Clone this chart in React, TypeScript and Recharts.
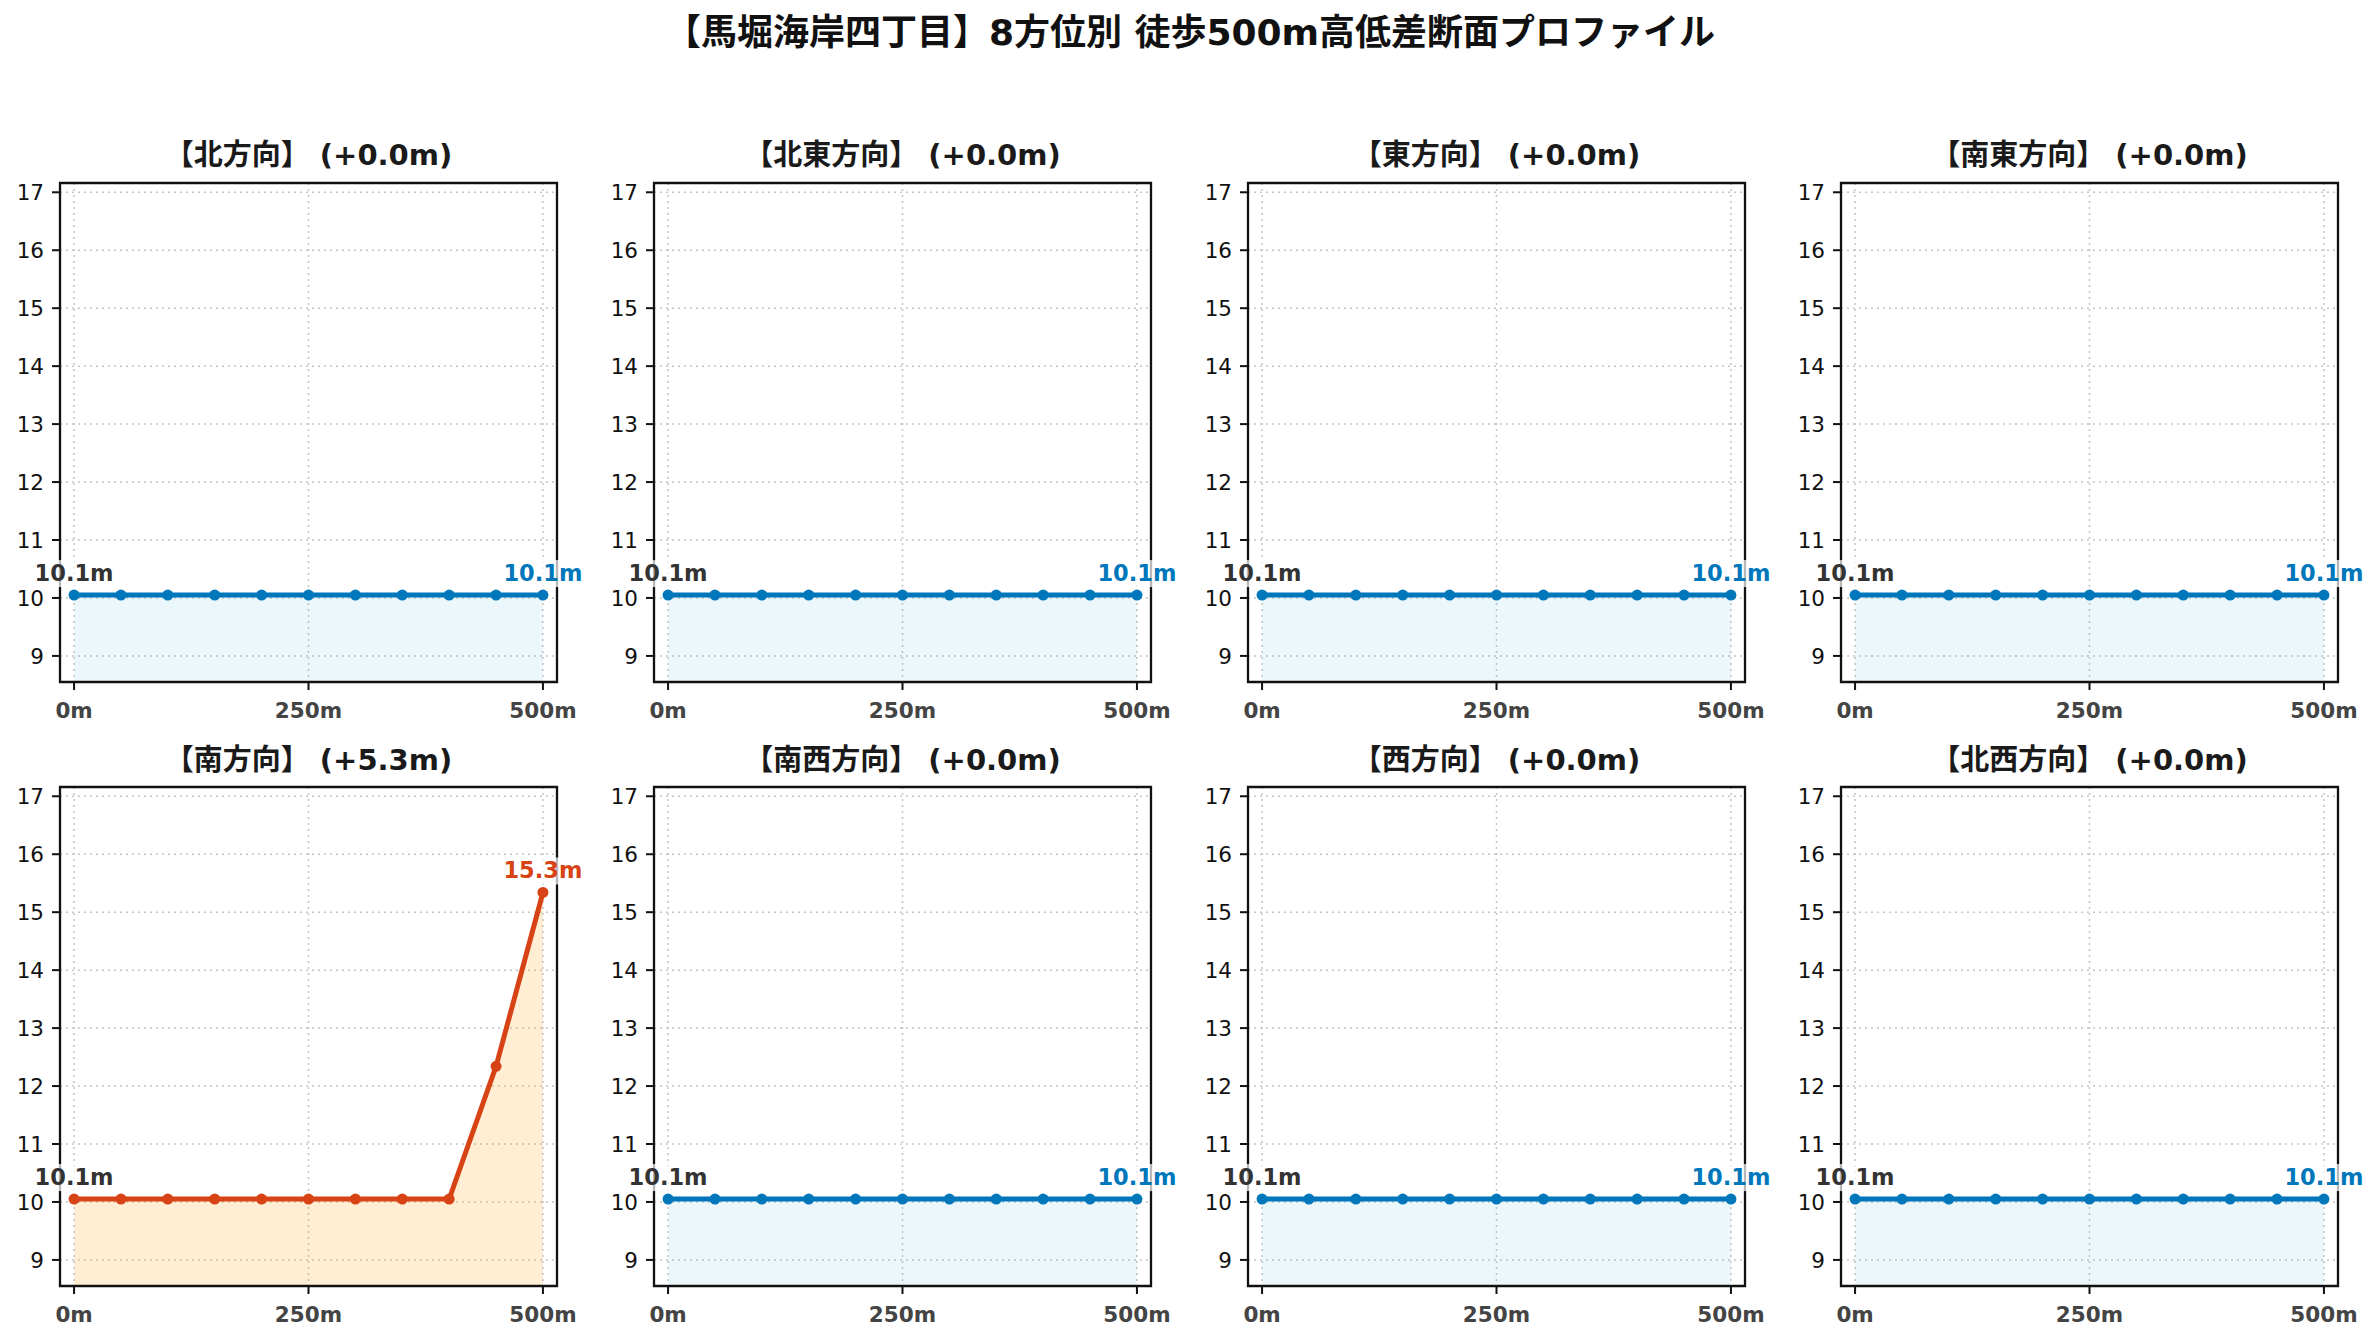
import React from 'react';
import { ComposedChart, Area, Line, XAxis, YAxis, CartesianGrid, LabelList, ReferenceArea } from 'recharts';

// ---- data ----
const distances = [0, 50, 100, 150, 200, 250, 300, 350, 400, 450, 500];
const directionNames = ['北', '北東', '東', '南東', '南', '南西', '西', '北西'];
const northElev = [10.05, 10.05, 10.05, 10.05, 10.05, 10.05, 10.05, 10.05, 10.05, 10.05, 10.05];
const northEastElev = [10.05, 10.05, 10.05, 10.05, 10.05, 10.05, 10.05, 10.05, 10.05, 10.05, 10.05];
const eastElev = [10.05, 10.05, 10.05, 10.05, 10.05, 10.05, 10.05, 10.05, 10.05, 10.05, 10.05];
const southEastElev = [10.05, 10.05, 10.05, 10.05, 10.05, 10.05, 10.05, 10.05, 10.05, 10.05, 10.05];
const southElev = [10.05, 10.05, 10.05, 10.05, 10.05, 10.05, 10.05, 10.05, 10.05, 12.34, 15.34];
const southWestElev = [10.05, 10.05, 10.05, 10.05, 10.05, 10.05, 10.05, 10.05, 10.05, 10.05, 10.05];
const westElev = [10.05, 10.05, 10.05, 10.05, 10.05, 10.05, 10.05, 10.05, 10.05, 10.05, 10.05];
const northWestElev = [10.05, 10.05, 10.05, 10.05, 10.05, 10.05, 10.05, 10.05, 10.05, 10.05, 10.05];
const elevations = [northElev, northEastElev, eastElev, southEastElev, southElev, southWestElev, westElev, northWestElev];
const xTicks = [0, 250, 500];
const yTicks = [9, 10, 11, 12, 13, 14, 15, 16, 17];
const xDomain = [-15, 515];
const yDomain = [8.55, 17.16];
const mainTitle = '【馬堀海岸四丁目】8方位別 徒歩500m高低差断面プロファイル';

// ---- layout ----
const FONT = "'DejaVu Sans', 'Noto Sans CJK JP', sans-serif";
const plotLefts = [60, 654, 1248, 1841];
const plotTops = [182.5, 787];
const PLOT_W = 497;
const PLOT_H = 499;
const Y_AXIS_W = 60;
const X_AXIS_H = 60;
const M_TOP = 30;
const M_RIGHT = 45;

const BLUE = '#0077bb';
const BLUE_FILL = '#29a3e0';
const RED = '#d84315';
const RED_FILL = '#ffa726';

function Panel({ name, values, col, row }: { name: string; values: number[]; col: number; row: number }) {
  const data = distances.map((d, i) => ({ d, v: values[i] }));
  const delta = values[values.length - 1] - values[0];
  const rising = delta >= 1;
  const color = rising ? RED : BLUE;
  const fill = rising ? RED_FILL : BLUE_FILL;
  const fillOpacity = rising ? 0.2 : 0.09;
  const sign = delta >= 0 ? '+' : '-';
  const title = `【${name}方向】 (${sign}${Math.abs(delta).toFixed(1)}m)`;
  const lastIdx = values.length - 1;

  const renderLabel = (props: any) => {
    const { x, y, index, value } = props;
    if (index !== 0 && index !== lastIdx) return null;
    const text = `${Number(value).toFixed(1)}m`;
    const c = index === 0 ? '#333333' : color;
    const w = 86;
    const ty = y - 14;
    return (
      <g key={`lbl-${index}`}>
        <rect x={x - w / 2} y={ty - 21} width={w} height={27} fill="#ffffff" fillOpacity={0.7} />
        <text x={x} y={ty} textAnchor="middle" fill={c} fontSize={22.5} fontWeight="bold" fontFamily={FONT}>
          {text}
        </text>
      </g>
    );
  };

  const left = plotLefts[col] - Y_AXIS_W;
  const top = plotTops[row] - M_TOP;
  const width = Y_AXIS_W + PLOT_W + M_RIGHT;
  const height = M_TOP + PLOT_H + X_AXIS_H;

  return (
    <>
      <div
        style={{
          position: 'absolute',
          left: plotLefts[col] - 60,
          width: PLOT_W + 120,
          top: plotTops[row] - 27.5 - 18,
          height: 36,
          lineHeight: '36px',
          textAlign: 'center',
          fontFamily: FONT,
          fontWeight: 'bold',
          fontSize: 29,
          color: '#1a1a1a',
          whiteSpace: 'nowrap',
        }}
      >
        {title}
      </div>
      <div style={{ position: 'absolute', left, top, width, height }}>
        <ComposedChart
          width={width}
          height={height}
          data={data}
          margin={{ top: M_TOP, right: M_RIGHT, bottom: 0, left: 0 }}
          style={{ overflow: 'visible' }}
        >
          <XAxis
            dataKey="d"
            type="number"
            domain={xDomain}
            ticks={xTicks}
            allowDataOverflow
            height={X_AXIS_H}
            tickFormatter={(v: number) => `${v}m`}
            tick={{ fill: '#444444', fontSize: 21.5, fontWeight: 'bold', fontFamily: FONT }}
            tickSize={8}
            tickMargin={13}
            tickLine={{ stroke: '#111', strokeWidth: 2 }}
            axisLine={{ stroke: '#111', strokeWidth: 2 }}
          />
          <YAxis
            type="number"
            domain={yDomain}
            ticks={yTicks}
            allowDataOverflow
            width={Y_AXIS_W}
            tick={{ fill: '#111111', fontSize: 21.5, fontFamily: FONT }}
            tickSize={8}
            tickMargin={8}
            tickLine={{ stroke: '#111', strokeWidth: 2 }}
            axisLine={{ stroke: '#111', strokeWidth: 2 }}
          />
          <CartesianGrid stroke="#c4c4c4" strokeDasharray="2 4" strokeWidth={1.5} />
          <Area
            dataKey="v"
            type="linear"
            baseValue="dataMin"
            fill={fill}
            fillOpacity={fillOpacity}
            stroke="none"
            isAnimationActive={false}
            dot={false}
            activeDot={false}
          />
          <ReferenceArea
            x1={xDomain[0]}
            x2={xDomain[1]}
            y1={yDomain[0]}
            y2={yDomain[1]}
            fill="none"
            fillOpacity={0}
            stroke="#111"
            strokeWidth={2.3}
            ifOverflow="visible"
          />
          <Line
            dataKey="v"
            type="linear"
            stroke={color}
            strokeWidth={5}
            dot={{ r: 5.5, fill: color, stroke: color, strokeWidth: 0 }}
            activeDot={false}
            isAnimationActive={false}
          >
            <LabelList dataKey="v" content={renderLabel} />
          </Line>
        </ComposedChart>
      </div>
    </>
  );
}

export default function App() {
  return (
    <div
      style={{
        position: 'absolute',
        left: 0,
        top: 0,
        width: 2380,
        height: 1340,
        background: '#ffffff',
        overflow: 'hidden',
      }}
    >
      <div
        style={{
          position: 'absolute',
          left: 0,
          top: 11,
          width: 2380,
          height: 44,
          lineHeight: '44px',
          textAlign: 'center',
          fontFamily: FONT,
          fontWeight: 'bold',
          fontSize: 36,
          color: '#111',
        }}
      >
        {mainTitle}
      </div>
      {directionNames.map((name, i) => (
        <Panel key={name} name={name} values={elevations[i]} col={i % 4} row={Math.floor(i / 4)} />
      ))}
    </div>
  );
}
